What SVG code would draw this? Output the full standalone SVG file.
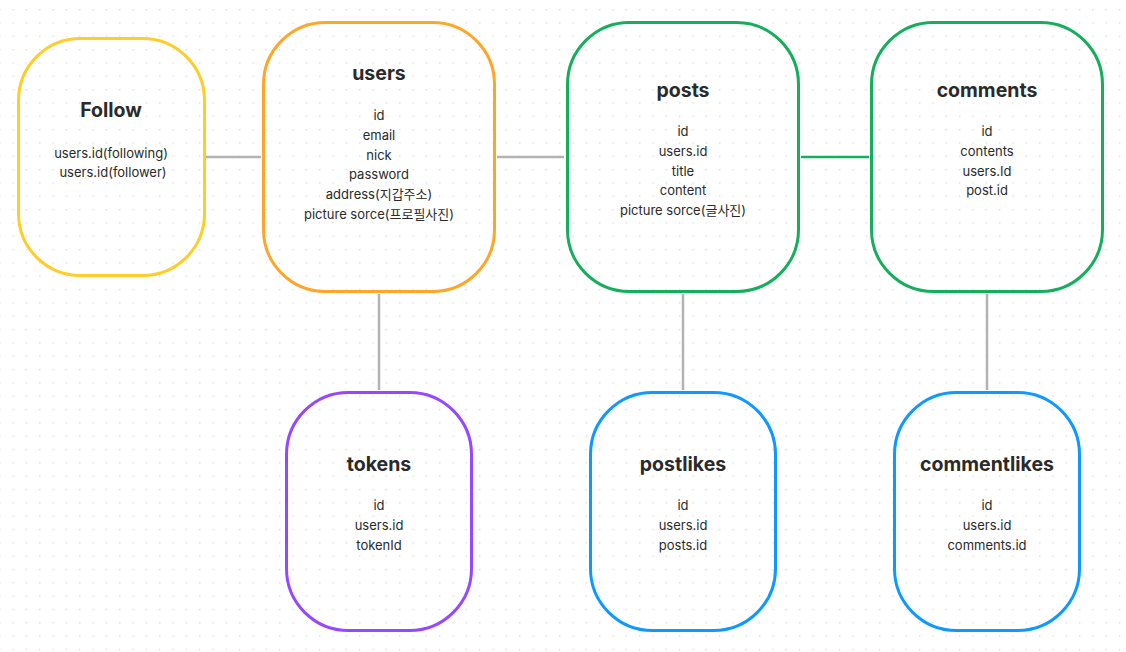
<svg xmlns="http://www.w3.org/2000/svg" width="1126" height="652" viewBox="0 0 1126 652">
<style>
.box{fill:none;stroke-width:3}
.t{font-family:Inter,"Noto Sans","Noto Sans CJK KR",sans-serif;font-size:19.5px;font-weight:700;fill:#2a2a2a;text-anchor:middle}
.f{font-family:Inter,"Noto Sans","Noto Sans CJK KR",sans-serif;font-size:13px;fill:#2a2a2a;text-anchor:middle}
.c{stroke:#b3b3b3;stroke-width:2.5;fill:none}
</style>
<defs>
<pattern id="dots" x="12.5" y="9" width="13.33" height="13.33" patternUnits="userSpaceOnUse">
<circle cx="0.7" cy="0.7" r="0.75" fill="#d4d4d4"/>
</pattern>
</defs>
<rect width="1126" height="652" fill="#ffffff"/>
<rect width="1126" height="652" fill="url(#dots)"/>
<g id="connectors">
<line class="c" x1="206" y1="157" x2="261" y2="157"/>
<line class="c" x1="497" y1="157" x2="564" y2="157"/>
<line class="c" x1="801" y1="157" x2="869" y2="157" style="stroke:#14AE5C"/>
<line class="c" x1="379" y1="294" x2="379" y2="390"/>
<line class="c" x1="683" y1="294" x2="683" y2="390"/>
<line class="c" x1="987" y1="294" x2="987" y2="390"/>
</g>
<g id="follow">
<rect class="box" x="18.5" y="38.5" width="186" height="237" rx="62" stroke="#FFCD29"/>
<text class="t" x="111" y="117">Follow</text>
<text class="f" x="111" y="158">users.id(following)</text>
<text class="f" x="113" y="177">users.id(follower)</text>
</g>
<g id="users">
<rect class="box" x="263.5" y="22.5" width="231" height="269" rx="62" stroke="#FFA629"/>
<text class="t" x="379" y="80">users</text>
<text class="f" x="379" y="120">id</text>
<text class="f" x="379" y="140">email</text>
<text class="f" x="379" y="160">nick</text>
<text class="f" x="379" y="179">password</text>
<text class="f" x="379" y="199">address(지갑주소)</text>
<text class="f" x="379" y="219">picture sorce(프로필사진)</text>
</g>
<g id="posts">
<rect class="box" x="567.5" y="22.5" width="231" height="269" rx="62" stroke="#14AE5C"/>
<text class="t" x="683" y="97">posts</text>
<text class="f" x="683" y="136">id</text>
<text class="f" x="683" y="156">users.id</text>
<text class="f" x="683" y="176">title</text>
<text class="f" x="683" y="195">content</text>
<text class="f" x="683" y="215">picture sorce(글사진)</text>
</g>
<g id="comments">
<rect class="box" x="871.5" y="22.5" width="231" height="269" rx="62" stroke="#14AE5C"/>
<text class="t" x="987" y="97">comments</text>
<text class="f" x="987" y="136">id</text>
<text class="f" x="987" y="156">contents</text>
<text class="f" x="987" y="176">users.Id</text>
<text class="f" x="987" y="195">post.id</text>
</g>
<g id="tokens">
<rect class="box" x="286.5" y="392.5" width="185" height="238" rx="62" stroke="#9747FF"/>
<text class="t" x="379" y="471">tokens</text>
<text class="f" x="379" y="510">id</text>
<text class="f" x="379" y="530">users.id</text>
<text class="f" x="379" y="550">tokenId</text>
</g>
<g id="postlikes">
<rect class="box" x="590.5" y="392.5" width="185" height="238" rx="62" stroke="#0D99FF"/>
<text class="t" x="683" y="471">postlikes</text>
<text class="f" x="683" y="510">id</text>
<text class="f" x="683" y="530">users.id</text>
<text class="f" x="683" y="550">posts.id</text>
</g>
<g id="commentlikes">
<rect class="box" x="894.5" y="392.5" width="185" height="238" rx="62" stroke="#0D99FF"/>
<text class="t" x="987" y="471">commentlikes</text>
<text class="f" x="987" y="510">id</text>
<text class="f" x="987" y="530">users.id</text>
<text class="f" x="987" y="550">comments.id</text>
</g>
</svg>
